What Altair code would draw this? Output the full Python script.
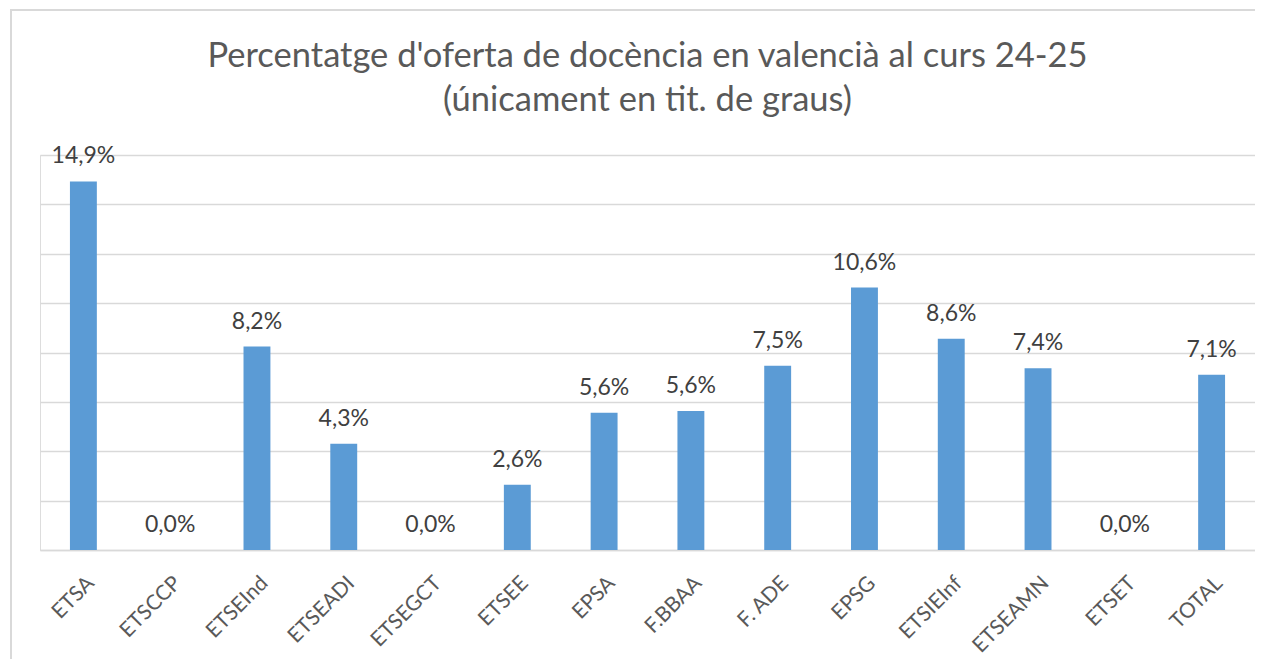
import altair as alt
import pandas as pd

categories = ["ETSA", "ETSCCP", "ETSEInd", "ETSEADI", "ETSEGCT", "ETSEE", "EPSA",
              "F.BBAA", "F. ADE", "EPSG", "ETSIEInf", "ETSEAMN", "ETSET", "TOTAL"]
values = [14.93, 0.0, 8.24, 4.30, 0.0, 2.64, 5.56, 5.63, 7.46, 10.63, 8.56, 7.36, 0.0, 7.10]
title_lines = ["Percentatge d'oferta de docència en valencià al curs 24-25",
               "(únicament en tit. de graus)"]

df = pd.DataFrame({"cat": categories, "val": values})

W, H = 1215, 395
PAD_B = 109
FONT = "Lato"

x_enc = alt.X("cat:N", sort=categories, title=None,
              scale=alt.Scale(paddingInner=0.69, paddingOuter=0.345),
              axis=alt.Axis(labelAngle=-45, labelFontSize=21, labelColor="#595959",
                            labelFont=FONT, labelPadding=22, ticks=False,
                            domainColor="#D9D9D9", domainWidth=1.5, labelLimit=300))
y_enc = alt.Y("val:Q", title=None,
              scale=alt.Scale(domain=[0, 16], nice=False),
              axis=alt.Axis(values=[0, 2, 4, 6, 8, 10, 12, 14, 16], labels=False, ticks=False,
                            domain=False, gridColor="#D9D9D9", gridWidth=1.5))

base = alt.Chart(df)

bars = base.mark_bar(color="#5B9BD5").encode(x=x_enc, y=y_enc)

labels = base.transform_calculate(
    lbl="replace(format(datum.val, '.1f'), '.', ',') + '%'"
).mark_text(font=FONT, fontSize=23, color="#404040", baseline="middle", dy=-25).encode(
    x=alt.X("cat:N", sort=categories), y="val:Q", text="lbl:N")

one = pd.DataFrame({"k": [0]})
border_left = alt.Chart(one).mark_rule(color="#D9D9D9", strokeWidth=2).encode(
    x=alt.value(-29), y=alt.value(-145), y2=alt.value(H + PAD_B))
border_top = alt.Chart(one).mark_rule(color="#D9D9D9", strokeWidth=2).encode(
    x=alt.value(-30), x2=alt.value(W), y=alt.value(-145))

t1 = alt.Chart(pd.DataFrame({"t": [title_lines[0]]})).mark_text(
    font=FONT, fontSize=34.5, color="#595959", baseline="middle", align="center").encode(
    x=alt.value(W / 2), y=alt.value(57 - 155), text="t:N")
t2 = alt.Chart(pd.DataFrame({"t": [title_lines[1]]})).mark_text(
    font=FONT, fontSize=34.5, color="#595959", baseline="middle", align="center").encode(
    x=alt.value(W / 2), y=alt.value(101 - 155), text="t:N")

chart = alt.layer(border_left, border_top, bars, labels, t1, t2).properties(
    width=W, height=H,
    padding={"left": 32, "top": 147, "right": 0, "bottom": PAD_B},
    autosize=alt.AutoSizeParams(type="none"),
).configure_view(stroke=None).configure(background="white")

chart.save("out.html", embed_options={"renderer": "svg", "actions": False})
